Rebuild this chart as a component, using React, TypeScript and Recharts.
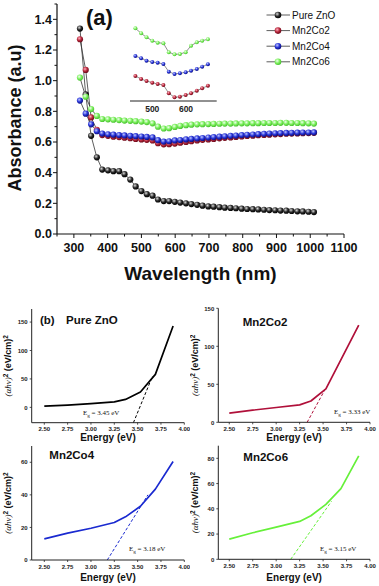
import React from 'react';
import { LineChart, Line, XAxis, YAxis, ReferenceLine } from 'recharts';

// (a) absorbance spectra
const wavelengths = [318, 335, 351, 368, 384, 401, 417, 434, 450, 467, 483, 500, 516, 533, 549, 566, 582, 599, 615, 632, 648, 665, 681, 698, 714, 731, 747, 764, 780, 797, 813, 830, 846, 863, 879, 896, 912, 929, 945, 962, 978, 995, 1011];
const pureZnO = [1.34, 0.91, 0.64, 0.5, 0.42, 0.415, 0.41, 0.41, 0.39, 0.355, 0.31, 0.28, 0.26, 0.25, 0.225, 0.215, 0.215, 0.21, 0.205, 0.2, 0.195, 0.19, 0.185, 0.18, 0.178, 0.175, 0.172, 0.17, 0.168, 0.165, 0.163, 0.162, 0.16, 0.158, 0.156, 0.155, 0.153, 0.152, 0.15, 0.148, 0.147, 0.145, 0.143];
const mn2Co2 = [1.27, 1.07, 0.76, 0.68, 0.645, 0.64, 0.635, 0.632, 0.628, 0.625, 0.62, 0.617, 0.614, 0.61, 0.592, 0.585, 0.586, 0.59, 0.595, 0.6, 0.605, 0.61, 0.614, 0.617, 0.62, 0.624, 0.627, 0.63, 0.633, 0.636, 0.639, 0.641, 0.644, 0.646, 0.648, 0.65, 0.652, 0.654, 0.655, 0.656, 0.657, 0.658, 0.66];
const mn2Co4 = [0.87, 0.785, 0.715, 0.67, 0.655, 0.65, 0.648, 0.645, 0.643, 0.64, 0.638, 0.636, 0.633, 0.63, 0.612, 0.603, 0.605, 0.61, 0.613, 0.617, 0.62, 0.623, 0.626, 0.629, 0.632, 0.635, 0.637, 0.64, 0.642, 0.645, 0.647, 0.649, 0.651, 0.653, 0.655, 0.657, 0.658, 0.659, 0.66, 0.661, 0.662, 0.662, 0.663];
const mn2Co6 = [1.02, 0.895, 0.815, 0.77, 0.75, 0.748, 0.745, 0.743, 0.74, 0.738, 0.736, 0.733, 0.73, 0.722, 0.7, 0.688, 0.69, 0.698, 0.705, 0.71, 0.713, 0.715, 0.716, 0.717, 0.718, 0.719, 0.72, 0.72, 0.721, 0.722, 0.722, 0.723, 0.723, 0.724, 0.724, 0.724, 0.725, 0.725, 0.724, 0.724, 0.723, 0.722, 0.72];
const xTicksMain = [250, 300, 350, 400, 450, 500, 550, 600, 650, 700, 750, 800, 850, 900, 950, 1000, 1050, 1100];
const yTicksMain = [0, 0.1, 0.2, 0.3, 0.4, 0.5, 0.6, 0.7, 0.8, 0.9, 1.0, 1.1, 1.2, 1.3, 1.4, 1.5];

// inset (stacked, arbitrary units)
const insetWavelengths = [450, 467, 483, 500, 516, 533, 549, 566, 582, 599, 615, 632, 648, 665];
const insetCo6 = [72.7, 67.7, 63.7, 60.3, 58.3, 57.7, 48.7, 46.7, 47, 48.7, 55.3, 58.7, 60.3, 61.7];
const insetCo4 = [45, 42.7, 40.3, 39, 38.3, 37, 29.3, 27, 27.7, 28.7, 30.3, 32, 34.3, 36.7];
const insetCo2 = [25, 22, 20, 18.3, 17, 16, 7.7, 3.7, 4.3, 6, 7.7, 10.3, 12.7, 15.3];
const insetTicks = [500, 600];

// (b) Tauc plots
const energyPure = [2.5, 2.75, 3.0, 3.25, 3.37, 3.53, 3.69, 3.88];
const ahvPure = [2, 4, 6.5, 9.5, 14, 27, 58, 143];
const energyCo2 = [2.5, 2.75, 3.0, 3.25, 3.37, 3.53, 3.88];
const ahvCo2 = [12, 16, 19.5, 23, 28, 44, 128];
const energyCo4 = [2.5, 2.75, 3.0, 3.25, 3.37, 3.53, 3.69, 3.88];
const ahvCo4 = [13, 16.5, 19.5, 23, 26.5, 33, 43.5, 60.5];
const energyCo6 = [2.5, 2.75, 3.0, 3.25, 3.37, 3.53, 3.69, 3.88];
const ahvCo6 = [16, 21, 25.5, 30, 34.5, 43.5, 56, 82];
const tangentPure = [{ x: 3.455, y: -27 }, { x: 3.66, y: 55 }];
const tangentCo2 = [{ x: 3.33, y: 0 }, { x: 3.52, y: 43 }];
const tangentCo4 = [{ x: 3.175, y: 0 }, { x: 3.61, y: 40 }];
const tangentCo6 = [{ x: 3.155, y: 0 }, { x: 3.59, y: 46 }];
const energyTicks = [2.5, 2.75, 3.0, 3.25, 3.5, 3.75, 4.0];

const mainTable = wavelengths.map((wl, i) => ({ wl, pure: pureZnO[i], co2: mn2Co2[i], co4: mn2Co4[i], co6: mn2Co6[i] }));
const insetTable = insetWavelengths.map((wl, i) => ({ wl, co2: insetCo2[i], co4: insetCo4[i], co6: insetCo6[i] }));

const FONT = 'Liberation Sans, Arial, sans-serif';
const SERIF = 'Liberation Serif, Times New Roman, serif';

const SERIES = [
  { key: 'pure', name: 'Pure ZnO', ball: 'ballBlack' },
  { key: 'co2', name: 'Mn2Co2', ball: 'ballRed' },
  { key: 'co4', name: 'Mn2Co4', ball: 'ballBlue' },
  { key: 'co6', name: 'Mn2Co6', ball: 'ballGreen' },
];

const BALLS = [
  { id: 'ballBlack', hi: '#d8d8d8', mid: '#2a2a2a', lo: '#000000' },
  { id: 'ballRed', hi: '#ffb0c0', mid: '#b8283c', lo: '#6a0818' },
  { id: 'ballBlue', hi: '#c0c8ff', mid: '#2834d8', lo: '#0c1080' },
  { id: 'ballGreen', hi: '#f0fff0', mid: '#7cf05c', lo: '#48c030' },
];

const makeDot = (grad: string, r: number) => (p: any) => (
  <circle key={`${grad}-${p.index}`} cx={p.cx} cy={p.cy} r={r} fill={`url(#${grad})`} />
);

const MainXTick = (props: any) => {
  const { x, y, payload } = props;
  const major = payload.value % 100 === 0;
  return (
    <g>
      <line x1={x} x2={x} y1={y} y2={y + (major ? 4 : 2.5)} stroke="#111" strokeWidth={1} />
      {major && (
        <text x={x} y={y + 18} textAnchor="middle" fontSize={12.5} fontWeight={700} fontFamily={FONT} fill="#111">
          {payload.value}
        </text>
      )}
    </g>
  );
};

const MainYTick = (props: any) => {
  const { x, y, payload } = props;
  const v = payload.value;
  const major = Math.round(v * 10) % 2 === 0 && v < 1.45;
  return (
    <g>
      <line x1={x - (major ? 4 : 2.5)} x2={x} y1={y} y2={y} stroke="#111" strokeWidth={1} />
      {major && (
        <text x={x - 5} y={y + 4.3} textAnchor="end" fontSize={12.5} fontWeight={700} fontFamily={FONT} fill="#111">
          {v.toFixed(1)}
        </text>
      )}
    </g>
  );
};

const RightTick = (props: any) => {
  const { x, y } = props;
  return <line x1={x - 3} x2={x} y1={y} y2={y} stroke="#111" strokeWidth={1} />;
};

const InsetTick = (props: any) => {
  const { x, y, payload } = props;
  return (
    <text x={x} y={y + 11} textAnchor="middle" fontSize={8.5} fontWeight={700} fontFamily={FONT} fill="#222">
      {payload.value}
    </text>
  );
};

const SmallXTick = (props: any) => {
  const { x, y, payload } = props;
  return (
    <g>
      <line x1={x} x2={x} y1={y} y2={y + 2} stroke="#222" strokeWidth={0.8} />
      <text x={x} y={y + 8.5} textAnchor="middle" fontSize={6} fontWeight={700} fontFamily={FONT} fill="#222">
        {payload.value.toFixed(2)}
      </text>
    </g>
  );
};

const SmallYTick = (props: any) => {
  const { x, y, payload } = props;
  return (
    <g>
      <line x1={x - 2} x2={x} y1={y} y2={y} stroke="#222" strokeWidth={0.8} />
      <text x={x - 4} y={y + 2.2} textAnchor="end" fontSize={6} fontWeight={700} fontFamily={FONT} fill="#222">
        {payload.value}
      </text>
    </g>
  );
};

const axisLine = { stroke: '#111', strokeWidth: 1.2 };

type PanelProps = {
  left: number;
  top: number;
  width: number;
  height: number;
  margin: { top: number; right: number; bottom: number; left: number };
  energy: number[];
  values: number[];
  xDomain: number[];
  yDomain: number[];
  yTicks: number[];
  tangent: { x: number; y: number }[];
  color: string;
  title: string;
  titleX: number;
  titleY: number;
  eg: string;
  egX: number;
  egY: number;
  labelY: number;
  xLabelY: number;
  showB?: boolean;
};

const TaucPanel = (p: PanelProps) => {
  const data = p.energy.map((e, i) => ({ e, v: p.values[i] }));
  const plotW = p.width - p.margin.left - p.margin.right;
  const plotMidX = p.margin.left + plotW / 2;
  return (
    <div style={{ position: 'absolute', left: p.left, top: p.top, width: p.width, height: p.height }}>
      <LineChart width={p.width} height={p.height} data={data} margin={{ top: p.margin.top, right: p.margin.right, bottom: 0, left: 0 }}>
        <XAxis dataKey="e" type="number" domain={p.xDomain} ticks={energyTicks} interval={0} allowDataOverflow
          height={p.margin.bottom} tickSize={0} tickMargin={0} tickLine={false} tick={<SmallXTick />} axisLine={{ stroke: '#222', strokeWidth: 1 }} />
        <XAxis xAxisId="top" orientation="top" type="number" domain={p.xDomain} height={0} tick={false} tickLine={false} axisLine={{ stroke: '#222', strokeWidth: 1 }} />
        <YAxis type="number" domain={p.yDomain} ticks={p.yTicks} interval={0} allowDataOverflow width={p.margin.left}
          tickSize={0} tickMargin={0} tickLine={false} tick={<SmallYTick />} axisLine={{ stroke: '#222', strokeWidth: 1 }} />
        <YAxis yAxisId="right" orientation="right" type="number" domain={p.yDomain} width={0} tick={false} tickLine={false} axisLine={{ stroke: '#222', strokeWidth: 1 }} />
        <ReferenceLine segment={p.tangent} stroke={p.color} strokeWidth={1} strokeDasharray="3 2" ifOverflow="visible" />
        <Line dataKey="v" type="linear" stroke={p.color} strokeWidth={1.7} strokeLinejoin="round" dot={false} isAnimationActive={false} />
      </LineChart>
      <svg width={p.width} height={p.height} style={{ position: 'absolute', left: 0, top: 0, pointerEvents: 'none' }}>
        {p.showB && (
          <text x={p.titleX - 26} y={p.titleY} fontSize={11.5} fontWeight={700} fontFamily={FONT} fill="#111">(b)</text>
        )}
        <text x={p.titleX} y={p.titleY} fontSize={11.5} fontWeight={700} fontFamily={FONT} fill="#111">{p.title}</text>
        <text x={p.egX} y={p.egY} fontSize={7} fontFamily={SERIF} fill="#111">
          E<tspan fontSize={5} dy={1.5}>g</tspan><tspan dy={-1.5}> = {p.eg} eV</tspan>
        </text>
        <text x={plotMidX} y={p.xLabelY} textAnchor="middle" fontSize={10} fontWeight={700} fontFamily={FONT} fill="#111">Energy (eV)</text>
        <text transform={`translate(${p.labelY},${p.margin.top + (p.height - p.margin.top - p.margin.bottom) / 2}) rotate(-90)`}
          textAnchor="middle" fontSize={9} fontWeight={700} fontFamily={FONT} fill="#111">
          <tspan fontStyle="italic" fontWeight={400} fontFamily={SERIF}>(αhν)</tspan>
          <tspan fontSize={6.5} dy={-3.5}>2</tspan>
          <tspan dy={3.5}> (eV/cm)</tspan>
          <tspan fontSize={6.5} dy={-3.5}>2</tspan>
        </text>
      </svg>
    </div>
  );
};

export default function App() {
  return (
    <div style={{ position: 'absolute', left: 0, top: 0, width: 379, height: 586, background: '#fff', fontFamily: FONT, overflow: 'hidden' }}>
      <svg width={0} height={0} style={{ position: 'absolute' }}>
        <defs>
          {BALLS.map((b) => (
            <radialGradient key={b.id} id={b.id} cx="38%" cy="35%" r="65%">
              <stop offset="0%" stopColor={b.hi} />
              <stop offset="55%" stopColor={b.mid} />
              <stop offset="100%" stopColor={b.lo} />
            </radialGradient>
          ))}
        </defs>
      </svg>

      {/* (a) absorbance */}
      <div style={{ position: 'absolute', left: 0, top: 0, width: 379, height: 290 }}>
        <LineChart width={379} height={290} data={mainTable} margin={{ top: 4, right: 35, bottom: 0, left: 0 }}>
          <XAxis dataKey="wl" type="number" domain={[250, 1100]} ticks={xTicksMain} interval={0} allowDataOverflow height={56}
            tickSize={0} tickMargin={0} tickLine={false} tick={<MainXTick />} axisLine={axisLine} />
          <XAxis xAxisId="top" orientation="top" type="number" domain={[250, 1100]} height={0} tick={false} tickLine={false} axisLine={axisLine} />
          <YAxis type="number" domain={[0, 1.5]} ticks={yTicksMain} interval={0} allowDataOverflow width={57}
            tickSize={0} tickMargin={0} tickLine={false} tick={<MainYTick />} axisLine={axisLine} />
          <YAxis yAxisId="right" orientation="right" type="number" domain={[0, 1.5]} ticks={yTicksMain} interval={0} width={0}
            tickSize={0} tickMargin={0} tickLine={false} tick={<RightTick />} axisLine={axisLine} />
          {SERIES.map((s) => (
            <Line key={s.key} dataKey={s.key} name={s.name} type="linear" stroke="#333" strokeWidth={0.8}
              dot={makeDot(s.ball, 3.1)} activeDot={false} isAnimationActive={false} />
          ))}
        </LineChart>

        {/* inset */}
        <div style={{ position: 'absolute', left: 125, top: 15, width: 100, height: 100 }}>
          <LineChart width={100} height={100} data={insetTable} margin={{ top: 5, right: 8.3, bottom: 0, left: 5 }}>
            <XAxis dataKey="wl" type="number" domain={[434, 691]} ticks={insetTicks} interval={0} height={14}
              tickSize={0} tickMargin={0} tickLine={false} tick={<InsetTick />} axisLine={{ stroke: '#222', strokeWidth: 1 }} />
            <YAxis type="number" domain={[0, 81]} hide />
            {SERIES.slice(1).map((s) => (
              <Line key={s.key} dataKey={s.key} type="linear" stroke="#444" strokeWidth={0.6}
                dot={makeDot(s.ball, 2)} activeDot={false} isAnimationActive={false} />
            ))}
          </LineChart>
        </div>

        <svg width={379} height={290} style={{ position: 'absolute', left: 0, top: 0, pointerEvents: 'none' }}>
          <text x={86} y={25} fontSize={22} fontWeight={700} fontFamily={FONT} fill="#111">(a)</text>
          <text transform="translate(21,118) rotate(-90)" textAnchor="middle" fontSize={18} fontWeight={700} fontFamily={FONT} fill="#111">
            Absorbance (a.u)
          </text>
          <text x={200.5} y={280} textAnchor="middle" fontSize={19} fontWeight={700} fontFamily={FONT} fill="#111">Wavelength (nm)</text>
          {SERIES.map((s, i) => {
            const cy = 15 + i * 15.6;
            return (
              <g key={s.key}>
                <line x1={266.5} x2={290} y1={cy} y2={cy} stroke="#333" strokeWidth={0.8} />
                <circle cx={278} cy={cy} r={3.3} fill={`url(#${s.ball})`} />
                <text x={292} y={cy + 3.5} fontSize={10} fontFamily={FONT} fill="#111">{s.name}</text>
              </g>
            );
          })}
        </svg>
      </div>

      {/* (b) Tauc plots */}
      <TaucPanel left={0} top={290} width={190} height={156} margin={{ top: 19, right: 5.7, bottom: 23.3, left: 31.7 }}
        energy={energyPure} values={ahvPure} xDomain={[2.365, 4.0]} yDomain={[-27, 173]} yTicks={[0, 50, 100, 150]}
        tangent={tangentPure} color="#000" title="Pure ZnO" titleX={66} titleY={34} showB eg="3.45" egX={83} egY={125}
        labelY={11} xLabelY={150.5} />
      <TaucPanel left={190} top={290} width={189} height={156} margin={{ top: 18.3, right: 9, bottom: 23.7, left: 28.3 }}
        energy={energyCo2} values={ahvCo2} xDomain={[2.383, 4.0]} yDomain={[0, 150]} yTicks={[0, 50, 100, 150]}
        tangent={tangentCo2} color="#b0103a" title="Mn2Co2" titleX={52.7} titleY={36} eg="3.33" egX={144} egY={124}
        labelY={8} xLabelY={150.5} />
      <TaucPanel left={0} top={440} width={190} height={146} margin={{ top: 6, right: 5.7, bottom: 26, left: 31.7 }}
        energy={energyCo4} values={ahvCo4} xDomain={[2.365, 4.0]} yDomain={[0, 70]} yTicks={[0, 20, 40, 60]}
        tangent={tangentCo4} color="#1a2ad0" title="Mn2Co4" titleX={49.3} titleY={19} eg="3.18" egX={129} egY={111}
        labelY={11} xLabelY={141} />
      <TaucPanel left={190} top={440} width={189} height={146} margin={{ top: 5.7, right: 9, bottom: 26.7, left: 28.3 }}
        energy={energyCo6} values={ahvCo6} xDomain={[2.383, 4.0]} yDomain={[0, 90]} yTicks={[0, 20, 40, 60, 80]}
        tangent={tangentCo6} color="#66f03a" title="Mn2Co6" titleX={53.3} titleY={21} eg="3.15" egX={130} egY={111}
        labelY={8} xLabelY={141} />
    </div>
  );
}
